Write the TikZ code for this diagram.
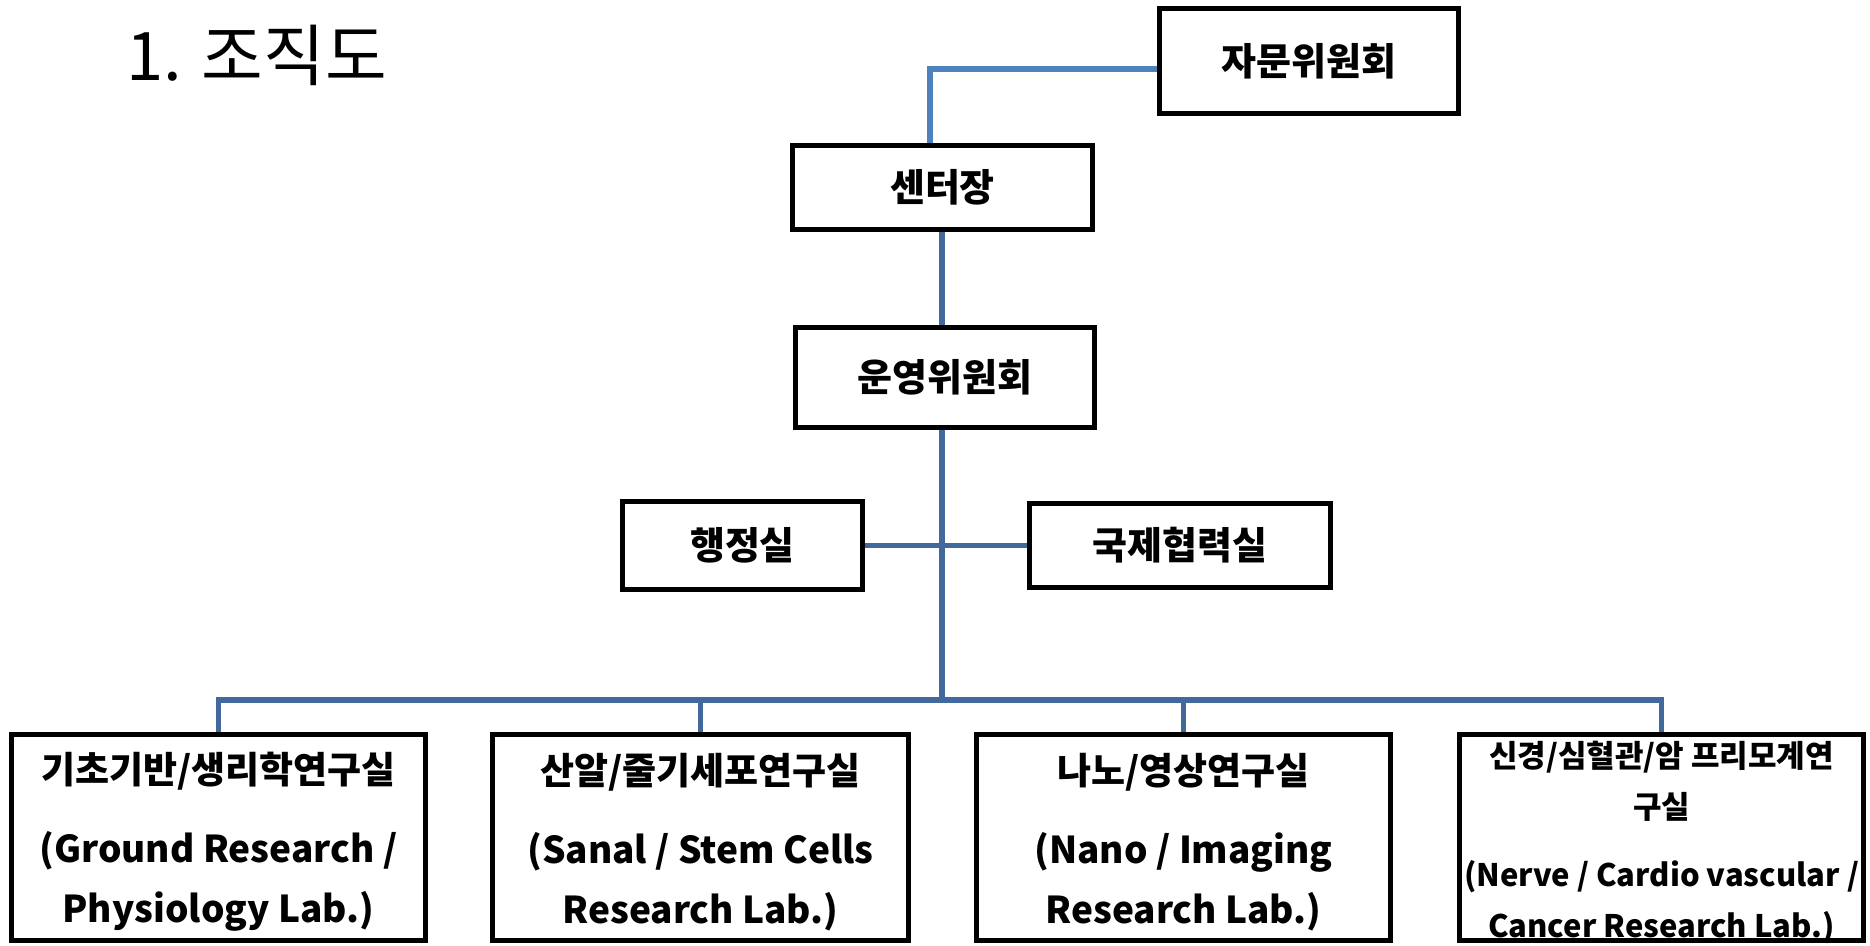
\documentclass[tikz,border=0pt]{standalone}
\usepackage{fontspec}
\setmainfont{Noto Sans CJK KR}
\usetikzlibrary{backgrounds}
\definecolor{lnA}{HTML}{4F81BD}
\definecolor{lnB}{HTML}{41699E}
\begin{document}
\begin{tikzpicture}[x=1pt,y=-1pt,
  box/.style={draw=black, line width=4.7pt, fill=white, inner sep=0pt,
    font=\bfseries\fontsize{38}{44}\selectfont},
  conna/.style={draw=lnA, line width=5.5pt},
  connb/.style={draw=lnB, line width=5.5pt},
  labtext/.style={inner sep=0pt, align=center,
    font=\bfseries\fontsize{37}{60}\selectfont},
  labtextsm/.style={inner sep=0pt, align=center,
    font=\bfseries\fontsize{31}{51}\selectfont}]
\useasboundingbox (0,0) rectangle (1870,945);

\node[anchor=base west, inner sep=0pt, font=\fontsize{67}{72}\selectfont] (title) at (126,80) {1. 조직도};

\node[box, minimum width=299.5, minimum height=105.5] (jamun) at (1309,61) {자문위원회};
\node[box, minimum width=300.5, minimum height=84.5] (chief) at (942.5,187.5) {센터장};
\node[box, minimum width=299.5, minimum height=100.5] (unyoung) at (945,377.5) {운영위원회};
\node[box, minimum width=240.5, minimum height=88.5] (haeng) at (742.5,545.5) {행정실};
\node[box, minimum width=301.5, minimum height=84.5] (guk) at (1180,545.5) {국제협력실};

\node[box, minimum width=414.5, minimum height=206.5] (lab1) at (218.5,837.5) {};
\node[box, minimum width=416.5, minimum height=206.5] (lab2) at (700.5,837.5) {};
\node[box, minimum width=414.5, minimum height=206.5] (lab3) at (1183.5,837.5) {};
\node[box, minimum width=404.5, minimum height=206.5] (lab4) at (1661.5,837.5) {};

\node[labtext] (lab1t) at (218.5,842) {기초기반/생리학연구실\\[19pt](Ground Research /\\Physiology Lab.)};
\node[labtext] (lab2t) at (700.5,842) {산알/줄기세포연구실\\[19pt](Sanal / Stem Cells\\Research Lab.)};
\node[labtext] (lab3t) at (1183.5,842) {나노/영상연구실\\[19pt](Nano / Imaging\\Research Lab.)};
\node[labtextsm] (lab4t) at (1661.5,842) {신경/심혈관/암 프리모계연\\구실\\[17pt](Nerve / Cardio vascular /\\Cancer Research Lab.)};

\coordinate (bus) at (942,700);

\begin{scope}[on background layer]
  \draw[conna] ([yshift=-8pt]jamun.west) -| ([xshift=-12.5pt]chief.north);
  \draw[connb] ([xshift=-0.5pt]chief.south) -- ([xshift=-0.5pt]chief.south |- unyoung.north);
  \draw[connb] (unyoung.south -| bus) -- (bus);
  \draw[connb] (haeng.east) -- (guk.west);
  \draw[connb] (lab1.north) |- (bus) -| (lab4.north);
  \draw[connb] (lab2.north) -- (lab2.north |- bus);
  \draw[connb] (lab3.north) -- (lab3.north |- bus);
\end{scope}
\end{tikzpicture}
\end{document}
